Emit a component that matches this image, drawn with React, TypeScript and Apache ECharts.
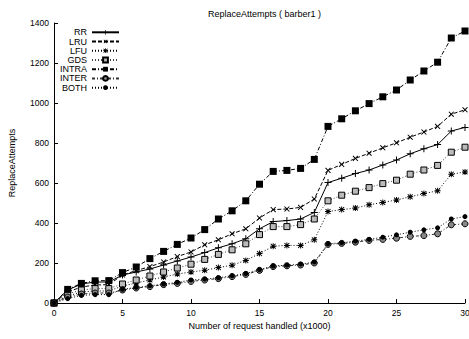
import React, { useEffect, useRef } from "react";
import * as echarts from "echarts";

const xValues = [0,1,2,3,4,5,6,7,8,9,10,11,12,13,14,15,16,17,18,19,20,21,22,23,24,25,26,27,28,29,30];
const seriesNames = ["RR", "LRU", "LFU", "GDS", "INTRA", "INTER", "BOTH"];
const rr = [0,65,95,105,105,140,155,170,190,210,230,252,276,296,321,371,407,412,420,453,602,624,647,665,690,715,746,771,792,860,878];
const lru = [0,55,80,90,92,140,162,182,205,232,255,291,316,346,371,425,467,470,478,520,663,693,723,749,776,801,829,855,883,944,966];
const lfu = [0,35,55,60,60,85,100,115,130,145,155,164,177,189,213,247,284,288,288,316,457,467,475,491,503,515,531,547,561,644,655];
const gds = [0,45,65,72,72,95,115,135,155,175,194,218,243,266,296,342,382,382,392,420,511,539,559,577,597,614,644,665,688,754,779];
const intra = [0,68,98,111,112,152,180,222,258,293,325,367,420,461,511,594,658,663,673,718,883,921,961,997,1031,1065,1115,1160,1204,1325,1360];
const inter = [0,30,45,50,50,65,75,82,92,98,108,115,122,132,143,163,182,186,190,200,293,298,304,313,318,324,333,337,346,391,396];
const both = [0,22,38,42,42,68,78,86,95,103,115,120,126,136,147,167,185,189,194,205,296,301,309,318,329,341,354,366,376,420,432];

const FONT = "Liberation Sans";
const PLUS = "path://M4.3,0H5.7V4.3H10V5.7H5.7V10H4.3V5.7H0V4.3H4.3Z";
const STAR = "path://M4.2,0H5.8V4.2H10V5.8H5.8V10H4.2V5.8H0V4.2H4.2ZM1.5,0.4L5,3.9L8.5,0.4L9.6,1.5L6.1,5L9.6,8.5L8.5,9.6L5,6.1L1.5,9.6L0.4,8.5L3.9,5L0.4,1.5Z";

export default function App() {
  const ref = useRef<HTMLDivElement>(null);
  useEffect(() => {
    if (!ref.current) return;
    const chart = echarts.init(ref.current, null, { renderer: "svg" });
    const mk = (arr: number[]) => arr.map((v, i) => [xValues[i], v]);
    const defs: any[] = [
      { name: "RR", data: rr, symbol: PLUS, size: 7, rotate: 0, line: "solid", lc: "#000", ic: "#000", bc: "#000", bw: 0 },
      { name: "LRU", data: lru, symbol: PLUS, size: 7, rotate: 45, line: [4, 2], lc: "#000", ic: "#000", bc: "#000", bw: 0 },
      { name: "LFU", data: lfu, symbol: STAR, size: 6, rotate: 0, line: [1, 2], lc: "#000", ic: "#000", bc: "#000", bw: 0 },
      { name: "GDS", data: gds, symbol: "rect", size: 6, rotate: 0, line: [1, 2], lc: "#444", ic: "#bbb", bc: "#000", bw: 1 },
      { name: "INTRA", data: intra, symbol: "rect", size: 7, rotate: 0, line: [4, 2, 1, 2], lc: "#000", ic: "#000", bc: "#000", bw: 0 },
      { name: "INTER", data: inter, symbol: "circle", size: 6, rotate: 0, line: [3, 2, 1, 2], lc: "#333", ic: "#888", bc: "#000", bw: 1 },
      { name: "BOTH", data: both, symbol: "circle", size: 5, rotate: 0, line: [1, 2], lc: "#000", ic: "#000", bc: "#000", bw: 0 },
    ];
    const tops = [27.8, 37.0, 46.2, 55.5, 64.7, 73.9, 83.2];
    chart.setOption({
      animation: false,
      title: {
        text: "ReplaceAttempts ( barber1 )",
        left: 259.5,
        textAlign: "center",
        top: 4,
        textStyle: { fontFamily: FONT, fontSize: 9, fontWeight: "normal", color: "#000" },
      },
      legend: seriesNames.map((n, i) => ({
        data: [n],
        right: 349,
        top: tops[i],
        orient: "vertical",
        align: "right",
        padding: 0,
        itemWidth: 27,
        itemHeight: 6,
        textStyle: { fontFamily: FONT, fontSize: 9, lineHeight: 8, color: "#000", padding: [0, 0, 0, 0] },
      })),
      grid: { left: 54, right: 4, top: 23, bottom: 36, outerBoundsMode: "none", containLabel: false },
      xAxis: {
        type: "value",
        min: 0,
        max: 30,
        interval: 5,
        name: "Number of request handled (x1000)",
        nameLocation: "middle",
        nameGap: 18,
        nameTextStyle: { fontFamily: FONT, fontSize: 9, color: "#000" },
        axisLine: { lineStyle: { color: "#000", width: 1 } },
        axisTick: { inside: true, length: 4, lineStyle: { color: "#000" } },
        axisLabel: { fontFamily: FONT, fontSize: 8.5, color: "#000", margin: 5, showMinLabel: true, showMaxLabel: true, hideOverlap: false, formatter: (v: number) => String(v) },
        splitLine: { show: false },
      },
      yAxis: {
        type: "value",
        min: 0,
        max: 1400,
        interval: 200,
        name: "ReplaceAttempts",
        nameLocation: "middle",
        nameGap: 38,
        nameTextStyle: { fontFamily: FONT, fontSize: 9, color: "#000" },
        axisLine: { show: true, lineStyle: { color: "#000", width: 1 } },
        axisTick: { show: true, inside: true, length: 4, lineStyle: { color: "#000" } },
        axisLabel: { fontFamily: FONT, fontSize: 8.5, color: "#000", margin: 5, showMinLabel: true, showMaxLabel: true, formatter: (v: number) => String(v) },
        splitLine: { show: false },
      },
      series: defs.map((d) => ({
        name: d.name,
        type: "line",
        data: mk(d.data),
        symbol: d.symbol,
        symbolSize: d.size,
        symbolRotate: d.rotate,
        showAllSymbol: true,
        clip: false,
        lineStyle: { color: d.lc, width: 1, type: d.line },
        itemStyle: { color: d.ic, borderColor: d.bc, borderWidth: d.bw },
        emphasis: { disabled: true },
      })),
    });
    return () => chart.dispose();
  }, []);
  return <div ref={ref} style={{ position: "absolute", left: 0, top: 0, width: 469, height: 339 }} />;
}
